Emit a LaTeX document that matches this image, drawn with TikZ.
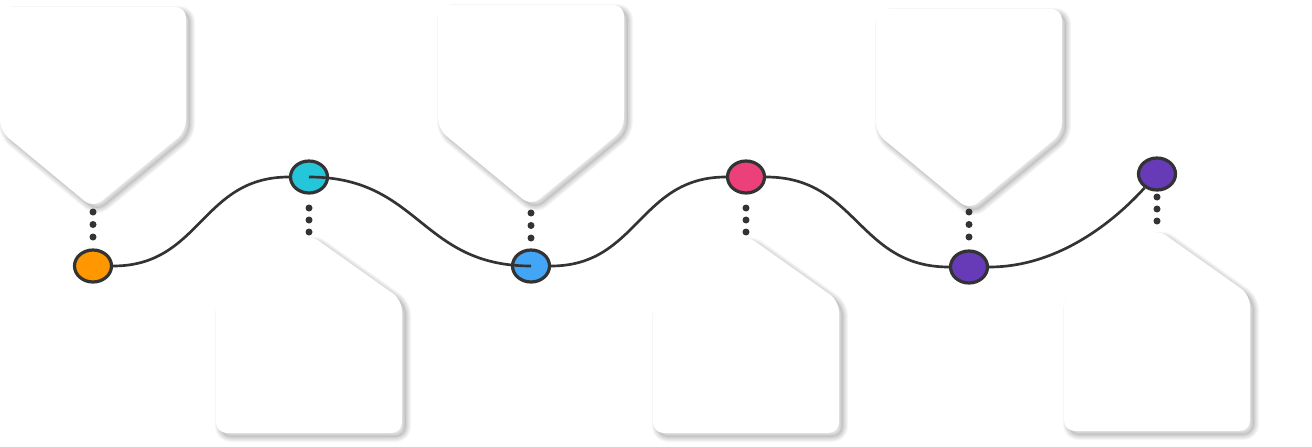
\documentclass[tikz,border=0pt]{standalone}
\usetikzlibrary{shapes.geometric}
\definecolor{ink}{HTML}{333333}
\definecolor{cOrange}{HTML}{FF9800}
\definecolor{cCyan}{HTML}{26C6DA}
\definecolor{cBlue}{HTML}{42A5F5}
\definecolor{cPink}{HTML}{EC407A}
\definecolor{cPurple}{HTML}{673AB7}
\pgfdeclarelayer{back}
\pgfdeclarelayer{bg}
\pgfsetlayers{back,bg,main}
\tikzset{
  stepnode/.style={ellipse, draw=ink, line width=2.4pt, minimum width=27.75pt, minimum height=24pt, inner sep=0pt},
  wave/.style={draw=ink, line width=2pt},
  cardfill/.style={fill=white, rounded corners=8pt},
  cardshadow/.style={black, opacity=0.035, rounded corners=8pt, line join=round},
}
% #1 = closed path of a card
\newcommand\ShadowCard[1]{%
  \begin{scope}[shift={(4,4)}]
    \fill[black, opacity=0.07, rounded corners=8pt] #1;
    \foreach \w in {2,4,6,8,10} {\draw[cardshadow, line width=\w*0.75pt] #1;}
  \end{scope}
  \fill[cardfill] #1;
}
% top card: centre x, top y, tip y
\newcommand\TopCard[3]{\ShadowCard{(#1-93,#2) -- (#1+93,#2) -- (#1+93,#3-77) -- (#1,#3) -- (#1-93,#3-77) -- cycle}}
% bottom card: centre x, tip y, bottom y
\newcommand\BottomCard[3]{\ShadowCard{(#1,#2) -- (#1+93,#2+66) -- (#1+93,#3) -- (#1-93,#3) -- (#1-93,#2+66) -- cycle}}
\begin{document}
\begin{tikzpicture}[x=0.75pt, y=-0.75pt]
  \useasboundingbox (0,0) rectangle (1312,446);
  \begin{pgfonlayer}{back}
    \fill[white] (0,0) rectangle (1312,446);
    % cards
    \TopCard{93}{7}{208}
    \TopCard{531}{5}{206}
    \TopCard{969}{9}{210}
    \BottomCard{309}{234}{433}
    \BottomCard{746}{235}{433}
    \BottomCard{1157}{229}{431}
  \end{pgfonlayer}

  % step nodes
  \node[stepnode, fill=cOrange] (n1) at (93,266) {};
  \node[stepnode, fill=cCyan]   (n2) at (309,177) {};
  \node[stepnode, fill=cBlue]   (n3) at (531,266) {};
  \node[stepnode, fill=cPink]   (n4) at (746,177) {};
  \node[stepnode, fill=cPurple] (n5) at (969,267) {};
  \node[stepnode, fill=cPurple] (n6) at (1157,174) {};

  % wave behind the nodes
  \begin{pgfonlayer}{bg}
    \draw[wave] (n1) .. controls +(108,0) and +(-108,0) .. (n2);
    \draw[wave] (n3) .. controls +(107,0) and +(-107,0) .. (n4);
    \draw[wave] (n4) .. controls +(111,0) and +(-111,0) .. (n5);
    \draw[wave] (n5) .. controls +(94,0) and +(-37,41) .. (n6);
  \end{pgfonlayer}
  % segment drawn over the nodes
  \draw[wave] (n2.center) .. controls +(111,0) and +(-111,0) .. (n3.center);

  % dotted leaders
  \foreach \x/\y in {93/212, 531/213, 969/212}
    \foreach \k in {0,1,2}
      \fill[ink] (\x,\y+12.5*\k) circle[radius=3.5];
  \foreach \x/\y in {309/208, 746/208, 1157/197}
    \foreach \k in {0,1,2}
      \fill[ink] (\x,\y+12*\k) circle[radius=3.5];
\end{tikzpicture}
\end{document}
